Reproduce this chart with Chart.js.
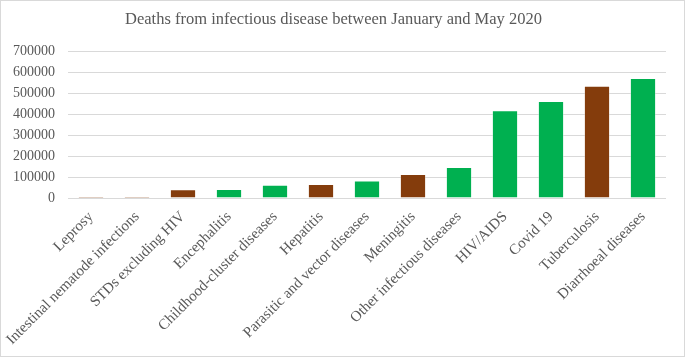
<!DOCTYPE html>
<html>
<head>
<meta charset="utf-8">
<script src="https://cdn.jsdelivr.net/npm/chart.js@4/dist/chart.umd.min.js"></script>
<style>
  body { margin: 0; background: #fff; }
  #wrap { width: 685px; height: 357px; box-sizing: border-box; border: 1px solid #d9d9d9; }
</style>
</head>
<body>
<div id="wrap"><canvas id="bar-chart"></canvas></div>
<script>
// ----------------- chart data ------------------------//
const diseases = [
  'Leprosy', 'Intestinal nematode infections', 'STDs excluding HIV', 'Encephalitis',
  'Childhood-cluster diseases', 'Hepatitis', 'Parasitic and vector diseases', 'Meningitis',
  'Other infectious diseases', 'HIV/AIDS', 'Covid 19', 'Tuberculosis', 'Diarrhoeal diseases'
]
const deaths = [8000, 7500, 42000, 43000, 64000, 67000, 84000, 115000, 148000, 420000, 465000, 538000, 575000]
const barColours = ['#843C0C', '#843C0C', '#843C0C', '#00B050', '#00B050', '#843C0C', '#00B050',
  '#843C0C', '#00B050', '#00B050', '#00B050', '#843C0C', '#00B050']
const yTicks = [0, 100000, 200000, 300000, 400000, 500000, 600000, 700000]

const serif = "'Liberation Serif', 'Times New Roman', serif"

const barChart = document.getElementById('bar-chart')

const myChart = new Chart(barChart, {
  type: 'bar',
  data: {
    labels: diseases,
    datasets: [
      {
        label: 'Deaths',
        data: deaths,
        backgroundColor: barColours,
        borderColor: 'rgba(255,255,255,0.35)',
        borderWidth: 1,
        categoryPercentage: 1,
        barPercentage: 0.57,
      },
    ],
  },
  options: {
    responsive: true,
    maintainAspectRatio: false,
    animation: false,
    layout: {
      padding: { left: 0, right: 18, top: 0, bottom: 0 },
    },
    scales: {
      x: {
        grid: { display: false },
        border: { display: false },
        ticks: {
          color: '#595959',
          font: { family: serif, size: 15 },
          minRotation: 45,
          maxRotation: 45,
          autoSkip: false,
          padding: 2,
        },
        // fixed band under the plot, like the original
        afterFit: (scale) => {
          scale.height = 158
          scale.paddingLeft = 0
          scale.paddingRight = 0
        },
      },
      y: {
        min: 0,
        max: 700000,
        afterBuildTicks: (axis) => {
          axis.ticks = yTicks.map((v) => ({ value: v }))
        },
        afterFit: (scale) => {
          scale.width = 67
        },
        grid: { color: '#d9d9d9', lineWidth: 1, drawTicks: false },
        border: { display: false },
        ticks: {
          color: '#595959',
          font: { family: serif, size: 14 },
          padding: 13,
          autoSkip: false,
          callback: (v) => String(v), // no thousands separators
        },
      },
    },
    plugins: {
      title: {
        display: true,
        text: 'Deaths from infectious disease between January and May 2020',
        color: '#595959',
        font: { family: serif, size: 16.5, weight: 'normal' },
        padding: { top: 9, bottom: 22 },
      },
      legend: { display: false },
      tooltip: { enabled: false },
    },
  },
})
</script>
</body>
</html>
